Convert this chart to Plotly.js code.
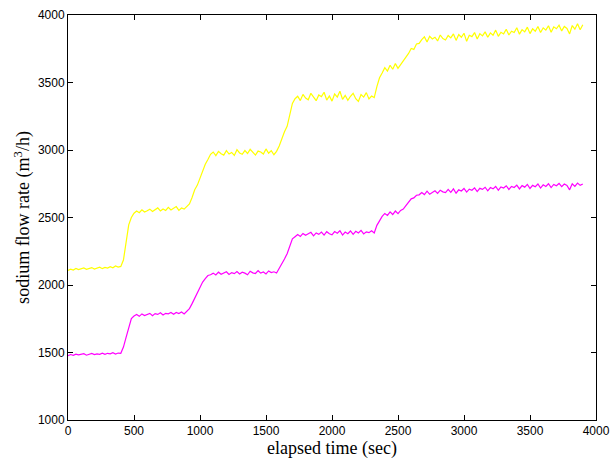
<!DOCTYPE html>
<html>
<head>
<meta charset="utf-8">
<script src="https://cdn.plot.ly/plotly-3.0.1.min.js"></script>
<style>html,body{margin:0;padding:0;background:#fff;}</style>
</head>
<body>
<div id="chart" style="width:611px;height:459px;"></div>
<script>
// sampling interval of the readings (seconds)
const sampleStep = 20;

// upper trace (yellow), m^3/h, one reading every 20 s from t = 0
const yellowFlow = [
2108,2117,2111,2122,2114,2119,2126,2116,2123,2129,2118,2127,2132,2121,2130,2125,2136,2128,2141,2133,
2138,2185,2325,2445,2500,2532,2548,2535,2557,2541,2550,2562,2544,2558,2571,2549,2563,2552,2575,2556,
2566,2581,2553,2570,2562,2578,2600,2648,2705,2740,2795,2838,2895,2930,2968,2985,2958,2990,2972,2962,
2995,2970,2982,2960,3002,2978,2968,2996,2974,3005,2980,2962,2992,2985,2970,3008,2976,2995,2965,2990,
3030,3085,3135,3175,3265,3345,3380,3398,3366,3412,3385,3372,3420,3390,3365,3408,3395,3428,3370,3400,
3362,3415,3392,3435,3375,3405,3368,3398,3420,3380,3360,3410,3392,3425,3378,3400,3388,3470,3535,3570,
3610,3585,3628,3598,3640,3605,3632,3655,3690,3715,3752,3745,3785,3790,3818,3838,3800,3842,3822,3835,
3808,3852,3825,3815,3848,3830,3860,3812,3855,3835,3865,3805,3850,3840,3870,3822,3862,3845,3875,3835,
3868,3850,3888,3842,3872,3860,3895,3852,3880,3870,3905,3858,3892,3875,3910,3862,3898,3880,3915,3870,
3905,3888,3920,3872,3912,3898,3925,3882,3915,3900,3860,3922,3895,3935,3890,3928
];

// lower trace (magenta), m^3/h, one reading every 20 s from t = 0
const magentaFlow = [
1476,1485,1479,1488,1482,1486,1491,1480,1489,1493,1484,1490,1487,1495,1486,1494,1490,1498,1489,1496,
1494,1540,1612,1688,1752,1770,1781,1768,1786,1774,1780,1790,1772,1788,1782,1794,1778,1790,1786,1796,
1783,1797,1788,1800,1785,1802,1825,1862,1902,1948,1982,2022,2048,2070,2076,2088,2074,2095,2080,2089,
2098,2078,2092,2084,2100,2082,2095,2088,2076,2102,2090,2085,2106,2088,2096,2082,2104,2092,2098,2089,
2120,2158,2192,2232,2288,2342,2358,2374,2360,2382,2368,2378,2390,2364,2386,2375,2392,2370,2395,2380,
2372,2396,2384,2402,2370,2392,2380,2400,2375,2398,2385,2405,2378,2394,2388,2402,2386,2442,2478,2508,
2530,2515,2542,2522,2548,2528,2552,2562,2588,2612,2638,2645,2665,2668,2685,2670,2695,2672,2688,2698,
2678,2702,2690,2684,2708,2686,2712,2680,2705,2696,2715,2688,2710,2702,2720,2692,2716,2708,2724,2698,
2722,2712,2730,2702,2726,2718,2735,2708,2730,2722,2740,2712,2736,2725,2745,2715,2738,2728,2748,2718,
2742,2730,2750,2722,2745,2735,2752,2728,2748,2738,2705,2750,2730,2755,2738,2748
];

const xTicks = [0, 500, 1000, 1500, 2000, 2500, 3000, 3500, 4000];
const yTicks = [1000, 1500, 2000, 2500, 3000, 3500, 4000];

const timesY = yellowFlow.map((_, i) => i * sampleStep);
const timesM = magentaFlow.map((_, i) => i * sampleStep);

const traces = [
  {x: timesY, y: yellowFlow, type: 'scatter', mode: 'lines',
   line: {color: '#FFFF00', width: 1.2}, hoverinfo: 'skip'},
  {x: timesM, y: magentaFlow, type: 'scatter', mode: 'lines',
   line: {color: '#FF00FF', width: 1.2}, hoverinfo: 'skip'}
];

const axisCommon = {
  showline: true, linecolor: '#000', linewidth: 1, mirror: 'ticks',
  ticks: 'inside', ticklen: 5, tickcolor: '#000', tickwidth: 1,
  showgrid: false, zeroline: false,
  tickfont: {family: 'Liberation Sans, Arial, sans-serif', size: 12, color: '#000'}
};

const layout = {
  width: 611, height: 459,
  margin: {l: 68, r: 15, t: 15, b: 39},
  paper_bgcolor: '#fff', plot_bgcolor: '#fff',
  showlegend: false,
  xaxis: Object.assign({}, axisCommon, {
    range: [0, 4000], tickmode: 'array', tickvals: xTicks, ticktext: xTicks.map(String),
    title: {text: 'elapsed time (sec)', standoff: 0,
            font: {family: 'Liberation Serif, Times New Roman, serif', size: 18, color: '#000'}}
  }),
  yaxis: Object.assign({}, axisCommon, {
    range: [1000, 4000], tickmode: 'array', tickvals: yTicks, ticktext: yTicks.map(String),
    title: {text: 'sodium flow rate (m<sup>3</sup>/h)', standoff: 3,
            font: {family: 'Liberation Serif, Times New Roman, serif', size: 18, color: '#000'}}
  })
};

Plotly.newPlot('chart', traces, layout, {displayModeBar: false, staticPlot: true});
</script>
</body>
</html>
